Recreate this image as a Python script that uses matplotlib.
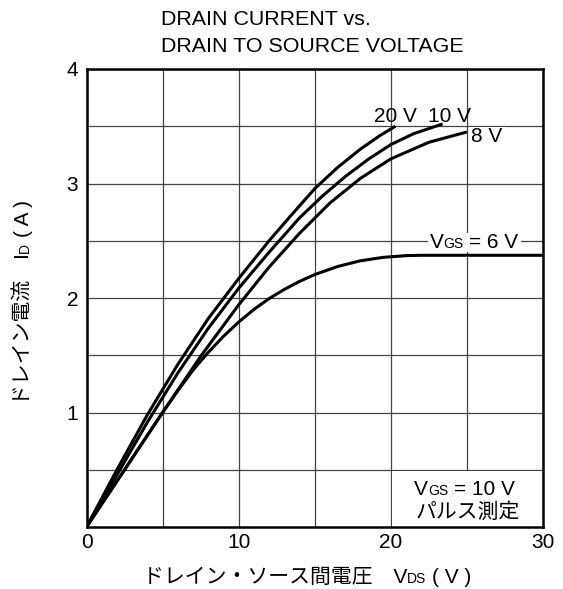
import matplotlib
matplotlib.use("Agg")
import matplotlib.pyplot as plt
from matplotlib.transforms import IdentityTransform
from matplotlib.patches import Rectangle
import math

FAM = ['Liberation Sans', 'Noto Sans CJK JP']
plt.rcParams['font.family'] = FAM

# ---- data ----
vds_20 = [0, 2, 4, 6, 8, 10, 12, 13.5, 15, 16.5, 18, 19.3, 20.3]
id_20 = [0, 0.5, 0.98, 1.42, 1.82, 2.17, 2.50, 2.73, 2.955, 3.14, 3.30, 3.42, 3.50]

vds_10 = [0, 2, 4, 6, 8, 10, 12, 14, 15.5, 17, 18.5, 20, 21.5, 23.4]
id_10 = [0, 0.455, 0.915, 1.345, 1.735, 2.085, 2.40, 2.70, 2.89, 3.06, 3.21, 3.34, 3.435, 3.52]

vds_8 = [0, 2.5, 5, 7.5, 10, 12, 14, 16, 18, 20, 22.5, 25]
id_8 = [0, 0.5, 1.0, 1.49, 1.94, 2.27, 2.565, 2.83, 3.045, 3.215, 3.36, 3.45]

vds_6 = [0, 2.5, 5, 6, 7, 8, 9, 10, 11, 12, 13, 14, 15, 16.5, 18, 19.5, 21, 22, 30]
id_6 = [0, 0.5, 1.0, 1.19, 1.37, 1.525, 1.665, 1.79, 1.90, 1.995, 2.075, 2.145, 2.205,
        2.275, 2.325, 2.355, 2.37, 2.373, 2.373]

xticks = [0, 10, 20, 30]
xminor = [5, 15, 25]
yticks = [1, 2, 3, 4]
yminor = [0.5, 1.5, 2.5, 3.5]

W, H = 563, 589
fig = plt.figure(figsize=(W / 100, H / 100), dpi=100)
ax = fig.add_axes([86.5 / W, 62 / H, (543 - 86.5) / W, (527 - 69) / H])
ax.set_xlim(0, 30)
ax.set_ylim(0, 4)
ax.set_xticks(xticks)
ax.set_xticks(xminor, minor=True)
ax.set_yticks(yticks)
ax.set_yticks(yminor, minor=True)
ax.set_xticklabels([str(v) for v in xticks])
ax.set_yticklabels([str(v) for v in yticks])
ax.tick_params(which='both', length=0, labelsize=15)
ax.tick_params(axis='x', pad=4.5)
ax.tick_params(axis='y', pad=6)
ax.set_axisbelow(True)
ax.grid(which='both', color='#444444', lw=0.9)
for sp in ax.spines.values():
    sp.set_linewidth(1.8)
    sp.set_color('black')

# white area behind the condition note (leaves the x=20 and y=0.5 grid lines visible)
ax.add_patch(Rectangle((20.06, 0), 9.94, 0.492, facecolor='white', edgecolor='none', zorder=1))

for xs, ys in [(vds_20, id_20), (vds_10, id_10), (vds_8, id_8), (vds_6, id_6)]:
    ax.plot(xs, ys, color='black', lw=2.2, solid_joinstyle='round', solid_capstyle='butt', zorder=2)

renderer = fig.canvas.get_renderer()


def measure(s, size):
    t = fig.text(0, 0, s, fontsize=size)
    w = t.get_window_extent(renderer).width
    t.remove()
    return w


def adv(s, size):
    return measure('|' + s + '|', size) - measure('||', size)


def rich(pieces, x, y, ha='left', rotation=0, bg=False, pad=2):
    items = []
    total = 0
    for s, size in pieces:
        body = s.lstrip()
        lead = s[:len(s) - len(body)]
        lw = adv(lead, size) if lead else 0
        bw = adv(body, size)
        items.append((body, size, lw, bw))
        total += lw + bw
    pos = {'left': 0, 'center': -total / 2, 'right': -total}[ha]
    c, sn = math.cos(math.radians(rotation)), math.sin(math.radians(rotation))
    texts = []
    for body, size, lw, bw in items:
        pos += lw
        t = fig.text(x + pos * c, y + pos * sn, body, fontsize=size,
                     transform=IdentityTransform(), ha='left', va='baseline',
                     rotation=rotation, rotation_mode='anchor', zorder=5)
        texts.append(t)
        pos += bw
    if bg:
        exts = [t.get_window_extent(renderer) for t in texts]
        x0 = min(e.x0 for e in exts); x1 = max(e.x1 for e in exts)
        y0 = min(e.y0 for e in exts); y1 = max(e.y1 for e in exts)
        fig.add_artist(Rectangle((x0 - pad, y0), x1 - x0 + 2 * pad, y1 - y0,
                                 transform=IdentityTransform(), facecolor='white',
                                 edgecolor='none', zorder=4))
    return texts


def dpt(x, y):
    return ax.transData.transform((x, y))

# title
fig.text(161, H - 25, "DRAIN CURRENT vs.", fontsize=15.4, transform=IdentityTransform(),
         ha='left', va='baseline')
fig.text(161, H - 51.7, "DRAIN TO SOURCE VOLTAGE", fontsize=15.4, transform=IdentityTransform(),
         ha='left', va='baseline')

# curve labels
px, py = dpt(20.32, 3.537)
rich([("20 V", 15)], px, py, ha='center')
px, py = dpt(23.87, 3.537)
rich([("10 V", 15)], px, py, ha='center')
px, py = dpt(25.29, 3.365)
rich([("8 V", 15)], px, py, ha='left', bg=True)
px, py = dpt(22.55, 2.434)
rich([("V", 15), ("GS", 10), (" = 6 V", 15)], px, py, ha='left', bg=True)

# condition note
px, py = dpt(24.85, 0.279)
rich([("V", 15), ("GS", 10), (" = 10 V", 15)], px, py, ha='center')
px, py = dpt(25.07, 0.082)
rich([("パルス測定", 15)], px, py, ha='center')

# axis labels
rich([("ドレイン・ソース間電圧　V", 15), ("DS", 10), (" ( V )", 15)], 143, H - 583, ha='left')
rich([("ドレイン電流　I", 15), ("D", 10), (" ( A )", 15)], 28.5, H - 405, ha='left', rotation=90)

fig.savefig("out.png", dpi=100)
